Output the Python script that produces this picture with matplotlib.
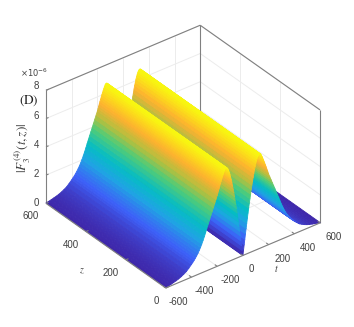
import numpy as np
import matplotlib
matplotlib.use("Agg")
import matplotlib.pyplot as plt
from matplotlib.colors import LinearSegmentedColormap
from mpl_toolkits.mplot3d import proj3d

plt.rcParams['font.family'] = ['Liberation Sans', 'DejaVu Sans']
plt.rcParams['mathtext.fontset'] = 'stix'

# values
t_half = [0, 5, 10, 15, 20, 25, 30, 35, 40, 45, 50, 55, 60, 65, 70, 75, 80, 85, 90, 95, 100,
          105, 110, 115, 120, 125, 130, 135, 140, 145, 150, 155, 160, 165, 170, 175, 180, 185,
          190, 195, 200, 210, 220, 230, 240, 250, 260, 270, 280, 290, 300, 310, 320, 330, 340,
          350, 360, 370, 380, 390, 400, 420, 440, 460, 480, 500, 520, 540, 560, 580, 600]
amp_half = [0.0, 0.36, 0.72, 1.08, 1.45, 1.8, 2.15, 2.5, 2.85, 3.18, 3.5, 3.8, 4.1, 4.4, 4.7,
            4.95, 5.2, 5.46, 5.7, 5.9, 6.1, 6.27, 6.42, 6.54, 6.62, 6.68, 6.7, 6.68, 6.62, 6.52,
            6.4, 6.28, 6.15, 6.02, 5.88, 5.74, 5.6, 5.45, 5.3, 5.15, 5.0, 4.75, 4.5, 4.25, 4.0,
            3.75, 3.5, 3.25, 3.0, 2.73, 2.48, 2.25, 2.03, 1.83, 1.65, 1.49, 1.35, 1.22, 1.1, 1.0,
            0.9, 0.72, 0.55, 0.44, 0.34, 0.26, 0.2, 0.15, 0.1, 0.06, 0.03]
z_values = [0, 50, 100, 150, 200, 250, 300, 350, 400, 450, 500, 550, 600]

t_ticks = [-600, -400, -200, 0, 200, 400, 600]
z_ticks = [0, 200, 400, 600]
f_ticks = [0, 2, 4, 6, 8]
f_label_dy = [0, -1, -1.5, -3, -4]

color_levels = [0.0, 0.17, 0.32, 0.45, 0.6, 0.7, 0.82, 0.9, 1.0]
color_stops = ['#3e26a8', '#3d60f8', '#1fa4e4', '#05bcc4', '#50cc78', '#b0c040', '#fdb030', '#fdd020', '#f8f810']

GRAY = '#808080'
GRID = '#ececec'
TXT = '#404040'

parula = LinearSegmentedColormap.from_list('parula_like', list(zip(color_levels, color_stops)))

t_all = np.concatenate([-np.array(t_half[:0:-1]), t_half])
amp_all = np.concatenate([amp_half[:0:-1], amp_half])
T, Z = np.meshgrid(t_all, z_values)
F = np.tile(amp_all, (len(z_values), 1))

fig = plt.figure(figsize=(3.54, 3.27), dpi=100)
ax = fig.add_axes([0, 0, 1, 1], projection='3d', proj_type='ortho', computed_zorder=False)
ax.set_xlim(-600, 600, view_margin=0)
ax.set_ylim(0, 600, view_margin=0)
ax.set_zlim(0, 8, view_margin=0)
ax.view_init(elev=33.1, azim=-127.7)
ax.set_box_aspect((195, 196, 135))
ax.set_axis_off()


def project(x, y, z):
    xp, yp, _ = proj3d.proj_transform(x, y, z, ax.get_proj())
    return xp, yp


# place the axes so the box corners land where they are in the reference
ax.apply_aspect()
to_axes = ax.transData + ax.transAxes.inverted()
left_u = to_axes.transform(project(-600, 600, 0))
right_u = to_axes.transform(project(600, 0, 0))
front_u = to_axes.transform(project(-600, 0, 0))
S = (320 - 46) / (right_u[0] - left_u[0])
L = 46 - S * left_u[0]
B = (327 - 288) - S * front_u[1]
ax.set_position([L / 354, B / 327, S / 354, S / 327])


def line3(xs, ys, zs, color=GRAY, lw=0.8, zorder=1):
    ax.plot(xs, ys, zs, color=color, lw=lw, zorder=zorder, solid_capstyle='butt')


# back grid
for t in t_ticks:
    line3([t, t], [0, 600], [0, 0], GRID, 0.7)
    line3([t, t], [600, 600], [0, 8], GRID, 0.7)
for z in z_ticks:
    line3([-600, 600], [z, z], [0, 0], GRID, 0.7)
    line3([600, 600], [z, z], [0, 8], GRID, 0.7)
for f in f_ticks:
    line3([-600, 600], [600, 600], [f, f], GRID, 0.7)
    line3([600, 600], [0, 600], [f, f], GRID, 0.7)

# box
line3([-600, 600], [600, 600], [8, 8])
line3([600, 600], [600, 0], [8, 8])
line3([-600, -600], [600, 600], [0, 8])
line3([600, 600], [600, 600], [0, 8])
line3([600, 600], [0, 0], [0, 8])

surf = ax.plot_surface(T, Z, F, cmap=parula, vmin=0, vmax=max(amp_half), rstride=1, cstride=1,
                       linewidth=0.6, shade=False, zorder=2)
surf.set_edgecolor('face')

# front edges and ticks
line3([-600, -600], [600, 0], [0, 0], zorder=3)
line3([-600, 600], [0, 0], [0, 0], zorder=3)
for t in t_ticks:
    line3([t, t], [0, 12], [0, 0], zorder=3)
for z in z_ticks:
    line3([-600, -580], [z, z], [0, 0], zorder=3)
for f in f_ticks:
    line3([-600, -580], [600, 600], [f, f], zorder=1)


def label(s, pos, dx, dy, **kw):
    # dx, dy in pixels, dy counted downward as in the image
    ax.annotate(s, xy=project(*pos), xycoords='data', xytext=(dx * 0.72, -dy * 0.72),
                textcoords='offset points', annotation_clip=False, color=kw.pop('color', TXT), **kw)


for z in z_ticks:
    label(str(z), (-600, z, 0), -7, 13, ha='right', va='center', fontsize=7)
for t in t_ticks:
    label(str(t), (t, 0, 0), 3 if t < 0 else 6, 14, ha='left', va='center', fontsize=7)
for f, dy in zip(f_ticks, f_label_dy):
    label(str(f), (-600, 600, f), -7, dy, ha='right', va='center', fontsize=7)

top_left = (-600, 600, 8)
label(r'$\times 10^{-6}$', top_left, -12, -18, ha='center', va='center', fontsize=6, math_fontfamily='dejavusans')
label(r'$\mathrm{(D)}$', top_left, -17, 10, ha='center', va='center', fontsize=9.5, color='#202020')
label(r'$|F_3^{(4)}(t,z)|$', top_left, -23, 58, ha='center', va='center', fontsize=9.5, rotation=90)
label(r'$z$', (-600, 300, 0), -24, 25, ha='center', va='center', fontsize=7)
label(r'$t$', (0, 0, 0), 34, 13, ha='center', va='center', fontsize=7)

fig.savefig('out.png', dpi=100)
